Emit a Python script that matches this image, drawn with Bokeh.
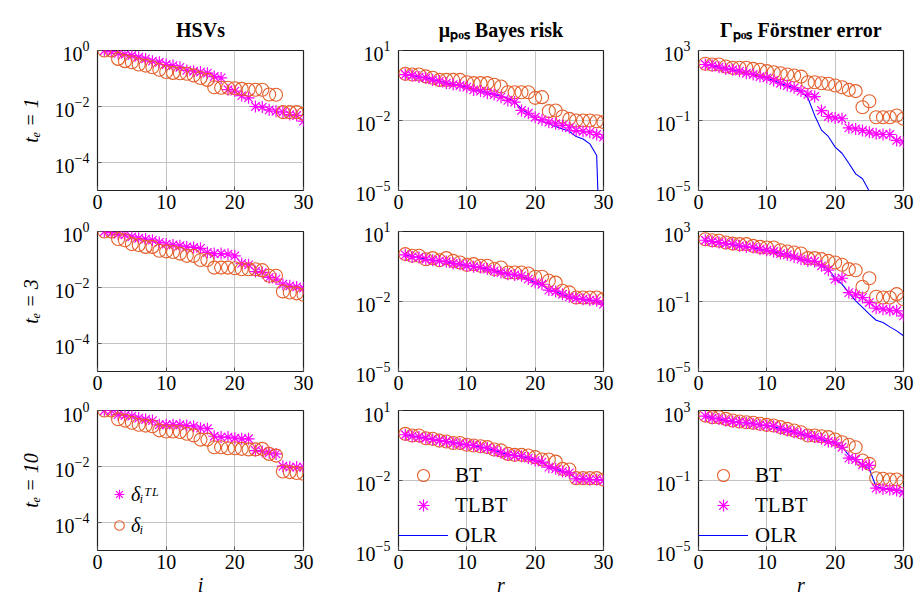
from bokeh.plotting import figure
from bokeh.layouts import column, row
from bokeh.models import FixedTicker, Range1d, Legend, LegendItem
from bokeh.embed import file_html
from bokeh.resources import INLINE

# ---------------- data (given as log10) -------------
idx = list(range(1, 31))
x_ticks = [0, 10, 20, 30]
row_labels = ["tₑ = 1", "tₑ = 3", "tₑ = 10"]
col_titles = ["HSVs", "μₚₒₛ Bayes risk", "Γₚₒₛ Förstner error"]
x_labels = ["i", "r", "r"]
hsv_ticks = [1e-4, 1e-2, 1e0]
mu_ticks = [1e-5, 1e-2, 1e1]
gam_ticks = [1e-5, 1e-1, 1e3]

# HSVs: delta_i (BT, circles) and delta_i^TL (TLBT, asterisks)
hsv_d_te1 = [0, 0, -0.30, -0.38, -0.42, -0.50, -0.54, -0.60, -0.69, -0.77, -0.80, -0.81, -0.83, -0.89, -0.98,
             -1.05, -1.31, -1.33, -1.33, -1.35, -1.37, -1.40, -1.40, -1.40, -1.57, -1.58, -2.20, -2.20, -2.20, -2.26]
hsv_tl_te1 = [0, -0.04, -0.10, -0.14, -0.18, -0.24, -0.30, -0.38, -0.42, -0.50, -0.54, -0.60, -0.71, -0.74, -0.77,
              -0.81, -0.93, -0.98, -1.40, -1.45, -1.61, -1.69, -2.00, -2.02, -2.12, -2.17, -2.20, -2.29, -2.32, -2.52]
hsv_d_te3 = [0, 0, -0.27, -0.31, -0.45, -0.48, -0.55, -0.55, -0.69, -0.71, -0.73, -0.79, -0.87, -0.87, -1.02,
             -1.02, -1.29, -1.29, -1.29, -1.31, -1.35, -1.35, -1.35, -1.38, -1.58, -1.58, -2.14, -2.18, -2.21, -2.26]
hsv_tl_te3 = [0, -0.04, -0.10, -0.12, -0.19, -0.24, -0.27, -0.31, -0.39, -0.45, -0.48, -0.51, -0.55, -0.57, -0.60,
              -0.75, -0.79, -0.79, -0.81, -0.87, -1.14, -1.19, -1.43, -1.46, -1.64, -1.70, -1.88, -1.94, -1.98, -2.02]
hsv_d_te10 = [0, 0, -0.31, -0.36, -0.44, -0.51, -0.54, -0.56, -0.71, -0.75, -0.75, -0.77, -0.83, -0.89, -1.04,
              -1.04, -1.31, -1.31, -1.35, -1.35, -1.37, -1.39, -1.39, -1.37, -1.55, -1.61, -2.18, -2.20, -2.23, -2.26]
hsv_tl_te10 = [0, 0, -0.15, -0.18, -0.20, -0.27, -0.32, -0.36, -0.51, -0.51, -0.51, -0.51, -0.54, -0.56, -0.63,
               -0.65, -0.92, -0.95, -0.95, -0.99, -1.01, -1.01, -1.43, -1.46, -1.51, -1.55, -1.99, -2.02, -2.02, -2.02]

# mu_pos Bayes risk
mu_bt_te1 = [0.0, -0.03, -0.03, -0.11, -0.17, -0.26, -0.26, -0.26, -0.26, -0.36, -0.40, -0.40, -0.40, -0.47, -0.54,
             -0.79, -0.79, -0.79, -0.79, -1.03, -1.00, -1.60, -1.57, -1.83, -1.93, -2.00, -2.00, -2.00, -2.03, -2.07]
mu_tl_te1 = [-0.03, -0.07, -0.14, -0.17, -0.26, -0.31, -0.40, -0.46, -0.50, -0.57, -0.69, -0.74, -0.83, -0.89, -1.00,
             -1.14, -1.21, -1.57, -1.69, -1.86, -1.97, -2.07, -2.14, -2.21, -2.31, -2.43, -2.46, -2.50, -2.60, -2.71]
mu_olr_te1 = [-0.03, -0.07, -0.13, -0.17, -0.25, -0.31, -0.39, -0.45, -0.50, -0.57, -0.67, -0.74, -0.81, -0.89, -0.95,
              -1.05, -1.21, -1.50, -1.71, -1.93, -2.03, -2.14, -2.26, -2.36, -2.46, -2.69, -2.79, -3.00, -3.50, -12.0]
mu_bt_te3 = [0.03, -0.04, -0.04, -0.19, -0.14, -0.23, -0.14, -0.26, -0.33, -0.43, -0.40, -0.47, -0.47, -0.61, -0.54,
             -0.76, -0.76, -0.76, -0.80, -0.94, -0.94, -1.11, -1.19, -1.54, -1.61, -1.83, -1.83, -1.83, -1.83, -1.90]
mu_tl_te3 = [0.0, -0.09, -0.11, -0.19, -0.23, -0.26, -0.29, -0.37, -0.40, -0.47, -0.51, -0.54, -0.61, -0.69, -0.76,
             -0.83, -0.86, -0.90, -1.04, -1.19, -1.26, -1.51, -1.57, -1.69, -1.80, -1.86, -1.90, -1.94, -1.97, -2.11]
mu_olr_te3 = [0.0, -0.08, -0.12, -0.18, -0.23, -0.27, -0.30, -0.36, -0.41, -0.46, -0.51, -0.55, -0.61, -0.68, -0.75,
              -0.82, -0.87, -0.92, -1.05, -1.20, -1.30, -1.50, -1.58, -1.70, -1.80, -1.87, -1.91, -1.95, -1.99, -2.10]
mu_bt_te10 = [0.0, -0.07, -0.07, -0.19, -0.21, -0.29, -0.33, -0.39, -0.39, -0.47, -0.50, -0.53, -0.57, -0.67, -0.71,
              -0.86, -0.90, -0.90, -0.93, -1.00, -1.10, -1.10, -1.19, -1.50, -1.53, -1.90, -1.90, -1.90, -1.90, -1.96]
mu_tl_te10 = [-0.04, -0.10, -0.14, -0.19, -0.24, -0.29, -0.33, -0.39, -0.43, -0.47, -0.50, -0.57, -0.61, -0.71, -0.81,
              -0.90, -0.93, -0.96, -1.04, -1.14, -1.21, -1.43, -1.50, -1.61, -1.67, -1.93, -1.93, -1.96, -1.96, -2.00]
mu_olr_te10 = [-0.03, -0.09, -0.14, -0.19, -0.24, -0.28, -0.33, -0.38, -0.43, -0.47, -0.51, -0.56, -0.62, -0.70, -0.80,
               -0.89, -0.93, -0.97, -1.04, -1.13, -1.22, -1.42, -1.51, -1.60, -1.68, -1.92, -1.94, -1.95, -1.97, -2.00]

# Gamma_pos Foerstner error
gam_bt_te1 = [2.24, 2.20, 2.20, 2.09, 2.01, 2.01, 2.01, 1.95, 1.90, 1.82, 1.76, 1.70, 1.63, 1.57, 1.51,
              1.19, 1.19, 1.13, 1.10, 1.00, 0.90, 0.75, 0.68, -0.24, 0.10, -0.81, -0.81, -0.81, -0.71, -0.90]
gam_tl_te1 = [2.20, 2.14, 2.05, 1.95, 1.90, 1.82, 1.70, 1.63, 1.51, 1.44, 1.29, 1.13, 1.00, 0.87, 0.68,
              0.49, 0.37, -0.43, -0.77, -0.85, -0.90, -1.42, -1.48, -1.57, -1.67, -1.76, -1.80, -1.80, -2.14, -2.24]
gam_olr_te1 = [2.20, 2.12, 2.04, 1.95, 1.88, 1.80, 1.70, 1.62, 1.50, 1.42, 1.28, 1.12, 0.98, 0.85, 0.68,
               0.30, -0.71, -1.55, -1.91, -2.52, -2.87, -3.44, -4.05, -4.33, -5.04, -5.50, -5.90, -6.30, -6.60, -7.00]
gam_bt_te3 = [2.56, 2.50, 2.47, 2.37, 2.31, 2.28, 2.28, 2.18, 2.12, 2.09, 2.09, 1.93, 1.86, 1.80, 1.74,
              1.48, 1.48, 1.42, 1.32, 1.23, 1.10, 0.85, 0.79, -0.16, 0.33, -0.73, -0.77, -0.77, -0.58, -0.87]
gam_tl_te3 = [2.50, 2.43, 2.37, 2.31, 2.28, 2.18, 2.12, 2.09, 1.99, 1.93, 1.86, 1.74, 1.67, 1.55, 1.42,
              1.32, 1.29, 1.04, 0.79, 0.28, 0.33, -0.49, -0.62, -0.77, -1.06, -1.38, -1.44, -1.50, -1.53, -1.82]
gam_olr_te3 = [2.50, 2.43, 2.36, 2.30, 2.26, 2.18, 2.11, 2.07, 1.98, 1.92, 1.85, 1.74, 1.66, 1.55, 1.42,
               1.32, 1.25, 1.04, 0.85, 0.33, -0.01, -0.49, -0.96, -1.34, -1.72, -2.07, -2.20, -2.45, -2.68, -2.96]
gam_bt_te10 = [2.71, 2.62, 2.62, 2.52, 2.43, 2.37, 2.33, 2.30, 2.24, 2.18, 2.14, 2.05, 1.95, 1.86, 1.76,
               1.57, 1.57, 1.53, 1.48, 1.34, 1.19, 1.04, 0.90, 0.14, -0.05, -0.87, -0.90, -0.94, -0.94, -1.06]
gam_tl_te10 = [2.68, 2.56, 2.52, 2.43, 2.37, 2.33, 2.30, 2.24, 2.18, 2.14, 2.10, 1.95, 1.86, 1.76, 1.67,
               1.57, 1.48, 1.38, 1.23, 1.15, 0.90, 0.28, 0.20, -0.10, -0.14, -1.44, -1.48, -1.51, -1.57, -1.70]
gam_olr_te10 = [2.68, 2.57, 2.51, 2.43, 2.37, 2.32, 2.29, 2.24, 2.17, 2.13, 2.09, 1.96, 1.86, 1.76, 1.66,
                1.56, 1.47, 1.37, 1.22, 1.12, 0.95, 0.43, 0.14, -0.10, -0.33, -1.38, -1.44, -1.48, -1.52, -1.67]

# ---------------- styling -----------------------------------------------------------
FONT = "Liberation Serif"
BT_COLOR = "#E4602B"
TL_COLOR = "#FF00FF"
OLR_COLOR = "#0000FF"
GRID = "#C4C4C4"

col_cfg = [
    dict(fw=206, left=97, right=30, ymax=1e0, yticks=hsv_ticks),
    dict(fw=205, left=65, right=30, ymax=1e1, yticks=mu_ticks),
    dict(fw=205, left=65, right=15, ymax=1e3, yticks=gam_ticks),
]
row_cfg = [
    dict(fh=140, top=50, bottom=30),
    dict(fh=140, top=11, bottom=30),
    dict(fh=140, top=9, bottom=55),
]

hsv_data = [(hsv_d_te1, hsv_tl_te1), (hsv_d_te3, hsv_tl_te3), (hsv_d_te10, hsv_tl_te10)]
mu_data = [(mu_bt_te1, mu_tl_te1, mu_olr_te1), (mu_bt_te3, mu_tl_te3, mu_olr_te3),
           (mu_bt_te10, mu_tl_te10, mu_olr_te10)]
gam_data = [(gam_bt_te1, gam_tl_te1, gam_olr_te1), (gam_bt_te3, gam_tl_te3, gam_olr_te3),
            (gam_bt_te10, gam_tl_te10, gam_olr_te10)]


def pw(vals):
    return [10.0 ** v for v in vals]


def make_fig(ri, ci):
    cc, rc = col_cfg[ci], row_cfg[ri]
    p = figure(frame_width=cc["fw"], frame_height=rc["fh"],
               x_range=Range1d(0, 30), y_range=Range1d(1e-5, cc["ymax"]),
               y_axis_type="log", output_backend="svg", toolbar_location=None,
               min_border_left=cc["left"], min_border_right=cc["right"],
               min_border_top=rc["top"], min_border_bottom=rc["bottom"],
               title=col_titles[ci] if ri == 0 else None)
    p.background_fill_color = "white"
    p.border_fill_color = "white"
    p.outline_line_color = "#222222"
    p.outline_line_width = 1.2
    if ri == 0:
        p.title.text_font = FONT
        p.title.text_font_size = "20px"
        p.title.text_font_style = "bold"
        p.title.align = "center"
        p.title.standoff = 20
        p.title.text_color = "black"
    p.xaxis.ticker = FixedTicker(ticks=x_ticks)
    p.yaxis.ticker = FixedTicker(ticks=cc["yticks"])
    for ax in (p.xaxis[0], p.yaxis[0]):
        ax.axis_line_color = None
        ax.major_tick_in = 4
        ax.major_tick_out = 0
        ax.major_tick_line_color = "#555555"
        ax.minor_tick_line_color = None
        ax.major_label_text_font = FONT
        ax.major_label_text_font_size = "20px"
        ax.major_label_text_color = "black"
    p.xaxis.major_label_standoff = 4
    p.yaxis.major_label_standoff = 8
    p.grid.grid_line_color = GRID
    p.grid.grid_line_width = 1
    if ci == 0:
        p.yaxis.axis_label = row_labels[ri]
        p.yaxis.axis_label_text_font = FONT
        p.yaxis.axis_label_text_font_size = "20px"
        p.yaxis.axis_label_text_font_style = "italic"
        p.yaxis.axis_label_standoff = 10
        p.yaxis.axis_label_text_color = "black"
    if ri == 2:
        p.xaxis.axis_label = x_labels[ci]
        p.xaxis.axis_label_text_font = FONT
        p.xaxis.axis_label_text_font_size = "20px"
        p.xaxis.axis_label_text_font_style = "italic"
        p.xaxis.axis_label_standoff = 2
        p.xaxis.axis_label_text_color = "black"
    return p


def style_legend(leg, size, italic=False):
    leg.label_text_font = FONT
    leg.label_text_font_size = size
    leg.label_text_color = "black"
    if italic:
        leg.label_text_font_style = "italic"
    leg.border_line_color = None
    leg.background_fill_alpha = 0


figs = []
for ri in range(3):
    rowfigs = []
    for ci in range(3):
        p = make_fig(ri, ci)
        if ci == 0:
            d_vals, tl_vals = hsv_data[ri]
            r_tl = p.scatter(idx, pw(tl_vals), marker="asterisk", size=12,
                             line_color=TL_COLOR, line_width=1.2)
            r_d = p.scatter(idx, pw(d_vals), marker="circle", size=13, fill_color=None,
                            line_color=BT_COLOR, line_width=1.1)
            if ri == 2:
                leg = Legend(items=[LegendItem(label="δᵢᵀᴸ", renderers=[r_tl]),
                                    LegendItem(label="δᵢ", renderers=[r_d])],
                             location="bottom_left")
                leg.margin = 10
                leg.padding = 3
                leg.spacing = 1
                leg.glyph_width = 24
                leg.glyph_height = 30
                leg.label_height = 28
                leg.label_standoff = 0
                style_legend(leg, "20px", italic=True)
                p.add_layout(leg, "center")
        else:
            bt_vals, tl_vals, olr_vals = (mu_data if ci == 1 else gam_data)[ri]
            r_olr = p.line(idx, pw(olr_vals), line_color=OLR_COLOR, line_width=1.1)
            r_bt = p.scatter(idx, pw(bt_vals), marker="circle", size=13, fill_color=None,
                             line_color=BT_COLOR, line_width=1.1)
            r_tl = p.scatter(idx, pw(tl_vals), marker="asterisk", size=12,
                             line_color=TL_COLOR, line_width=1.2)
            if ri == 2:
                leg = Legend(items=[LegendItem(label="BT", renderers=[r_bt]),
                                    LegendItem(label="TLBT", renderers=[r_tl]),
                                    LegendItem(label="OLR", renderers=[r_olr])],
                             location="bottom_left")
                leg.margin = 0
                leg.padding = 2
                leg.spacing = 0
                leg.glyph_width = 50
                leg.glyph_height = 30
                leg.label_height = 28
                leg.label_standoff = 7
                style_legend(leg, "21px")
                p.add_layout(leg, "center")
        rowfigs.append(p)
    figs.append(row(*rowfigs))

layout = column(*figs)

open("out.html", "w").write(file_html(layout, INLINE))
